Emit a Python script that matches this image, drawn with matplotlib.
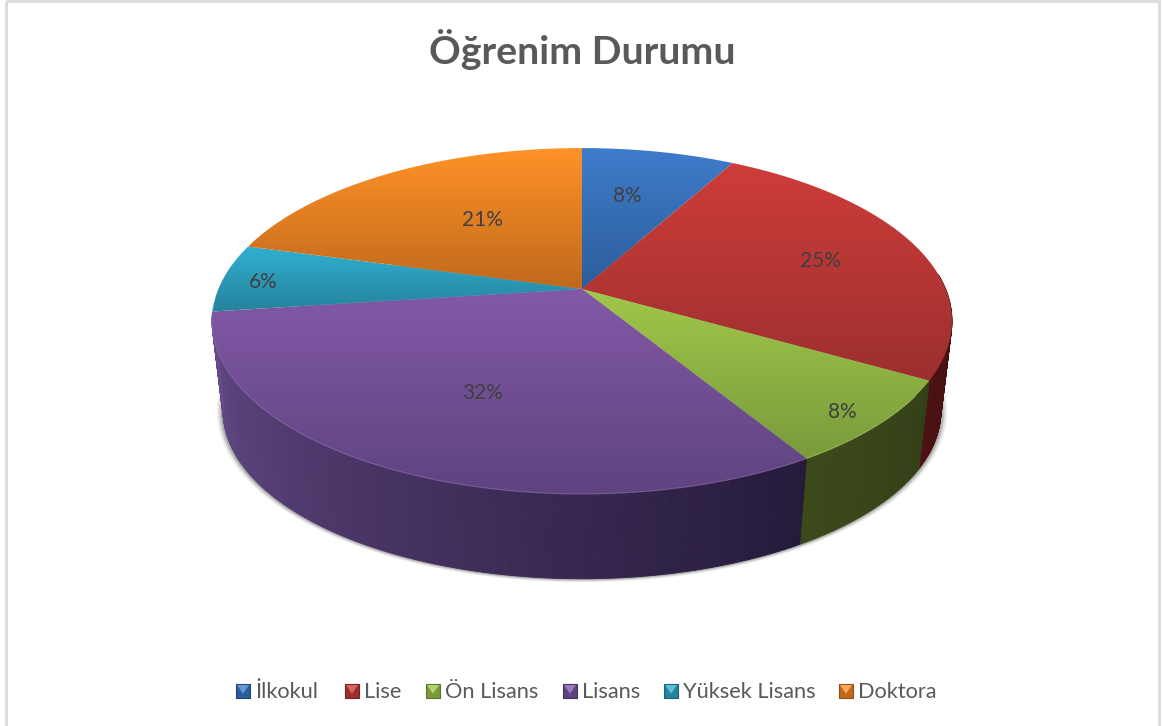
import numpy as np
import matplotlib
matplotlib.use('Agg')
import matplotlib.pyplot as plt
from matplotlib.patches import Polygon, Rectangle
from matplotlib.colors import LinearSegmentedColormap, to_rgb

categories = ['İlkokul', 'Lise', 'Ön Lisans', 'Lisans', 'Yüksek Lisans', 'Doktora']
percent = [8.0, 25.3, 8.0, 31.6, 6.4, 20.7]

top_light = ['#3f7ccb', '#ce3d3a', '#a1c84a', '#8259a8', '#31afd0', '#ff9228']
top_dark = ['#2c5d99', '#9c2f2e', '#7a9a3c', '#5f437f', '#26829c', '#c0691c']
side_left = ['#1c3a60', '#4c1214', '#3c4a1a', '#664b88', '#1a5a6c', '#80460f']
side_right = ['#1c3a60', '#3e0e10', '#333f16', '#241a3a', '#1a5a6c', '#80460f']

legend_x = [236, 345, 426, 563, 664, 839]
label_xy = [(627, 196), (820, 261), (842, 412), (483, 393), (263, 282), (482, 220)]

# perspective of the disc, fitted by eye
cx, cy = 582, 289
A, B, k = 363.6, 167.0, 0.185
shrink = 0.97
cy_low = 380


def project(theta, low=False):
    x, y = np.sin(theta), np.cos(theta)
    d = 1 + k * y
    if low:
        return cx + shrink * A * x / d, cy_low - shrink * B * y / d
    return cx + A * x / d, cy - B * y / d


def lerp(c1, c2, t):
    c1, c2 = np.array(to_rgb(c1)), np.array(to_rgb(c2))
    return tuple(c1 + (c2 - c1) * t)


fig = plt.figure(figsize=(11.62, 7.26), dpi=100)
ax = fig.add_axes([0, 0, 1, 1])
ax.set_xlim(0, 1162)
ax.set_ylim(726, 0)
ax.axis('off')

# chart frame
ax.add_patch(Rectangle((6, 1), 1153, 730, fc='none', ec='#dcdcdc', lw=2.2))

edges = np.radians(np.cumsum([0] + percent) * 3.6)
full = np.linspace(0, 2 * np.pi, 400)

# soft shadow under the base
for grow, a in zip([1.018, 1.014, 1.010, 1.006], [0.07, 0.12, 0.17, 0.25]):
    sx, sy = project(full, low=True)
    sx = cx + (sx - cx) * grow
    sy = cy_low + (sy - cy_low) * grow
    ax.fill(sx, sy, color='#555555', alpha=a, lw=0, zorder=1)

# side wall, thin strips (only what the front shows)
for i in range(len(percent)):
    a0, a1 = edges[i], edges[i + 1]
    lo, hi = max(a0, np.radians(85)), min(a1, edges[4])
    if lo >= hi:
        continue
    n = int(np.degrees(hi - lo)) * 2 + 2
    ts = np.linspace(lo, hi, n)
    for t0, t1 in zip(ts[:-1], ts[1:]):
        xa, ya = project(np.array([t0, t1]))
        xb, yb = project(np.array([t1, t0]), low=True)
        c = lerp(side_right[i], side_left[i], (t0 - lo) / (hi - lo))
        ax.add_patch(Polygon(np.column_stack([np.r_[xa, xb], np.r_[ya, yb]]),
                             fc=c, ec=c, lw=0.6, zorder=2))

# top face with a vertical gradient per slice
for i in range(len(percent)):
    ts = np.linspace(edges[i], edges[i + 1], 150)
    px, py = project(ts)
    px, py = np.r_[cx, px], np.r_[cy, py]
    poly = Polygon(np.column_stack([px, py]), fc='none', ec='none',
                   transform=ax.transData, zorder=3)
    ax.add_patch(poly)
    cmap = LinearSegmentedColormap.from_list('s%d' % i, [top_light[i], top_dark[i]])
    im = ax.imshow(np.linspace(0, 1, 256)[:, None], cmap=cmap, aspect='auto',
                   extent=(px.min(), px.max(), py.max(), py.min()), zorder=3,
                   interpolation='bilinear')
    im.set_clip_path(poly)
    # faint rim on the front edge
    front = ts[(ts > np.radians(125)) & (ts < np.radians(265))]
    if len(front) > 1:
        rx, ry = project(front)
        ax.plot(rx, ry, color=lerp(top_light[i], '#ffffff', 0.1), lw=0.9, alpha=0.6, zorder=4)

ax.set_xlim(0, 1162)
ax.set_ylim(726, 0)

for (x, y), p in zip(label_xy, percent):
    ax.text(x, y, '%d%%' % round(p), ha='center', va='center', family='Lato',
            fontsize=15, color='#404040', zorder=5)

ax.text(582, 49, 'Öğrenim Durumu', ha='center', va='center', family='Lato',
        fontsize=28.3, fontweight='bold', color='#595959', zorder=5)

# legend keys with a small bevel
size = 14
y0 = 684
for i, name in enumerate(categories):
    x0 = legend_x[i]
    ax.add_patch(Rectangle((x0, y0), size, size, fc=top_dark[i], ec=lerp(top_dark[i], '#000000', 0.25),
                           lw=0.8, zorder=5))
    ax.add_patch(Polygon([(x0 + 1, y0 + 1), (x0 + size - 1, y0 + 1), (x0 + size / 2, y0 + size * 0.7)],
                         fc=lerp(top_light[i], '#ffffff', 0.2), ec='none', zorder=6))
    ax.text(x0 + size + 5, y0 + size / 2 + 1, name, ha='left', va='center', family='Lato',
            fontsize=15.7, color='#595959', zorder=5)

fig.savefig('out.png', dpi=100)
